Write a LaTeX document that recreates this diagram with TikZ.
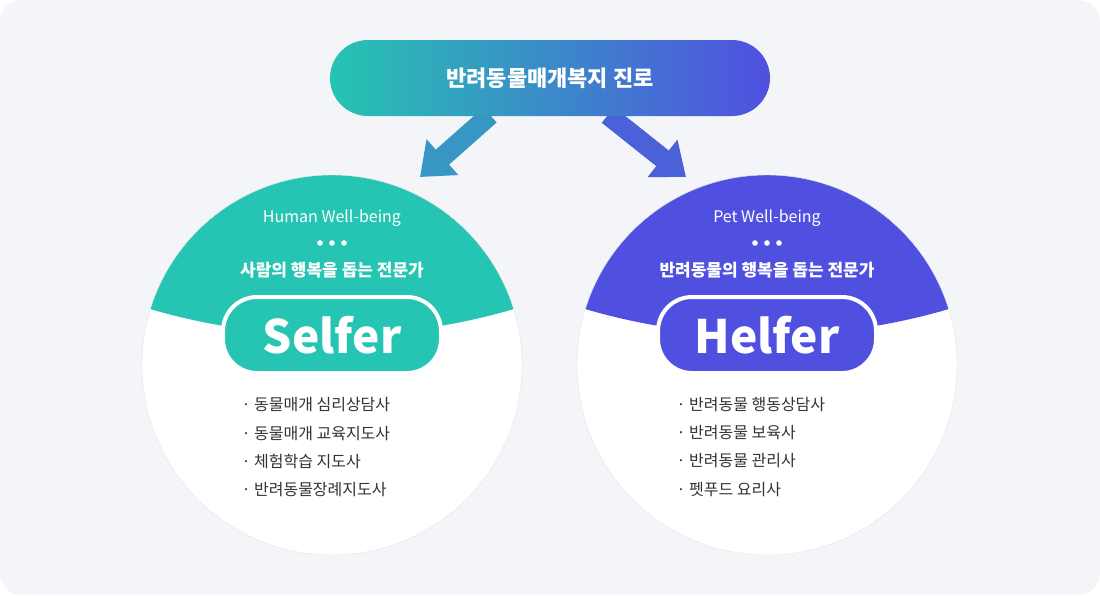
\documentclass[tikz,border=0pt]{standalone}
\usepackage{fontspec}
\setmainfont{Noto Sans CJK KR}
\usetikzlibrary{arrows.meta}
\definecolor{teal1}{HTML}{26C4B2}
\definecolor{blue1}{HTML}{5050E0}
\definecolor{bgcol}{HTML}{F4F5F8}
\definecolor{txtcol}{HTML}{333333}
\tikzset{
  captext/.style={text=white, font=\fontsize{16}{18}\selectfont},
  capbold/.style={font=\bfseries\fontsize{17}{20}\selectfont, text=white},
  namepill/.style={rounded corners=34pt, minimum width=218pt, minimum height=76pt,
    draw=white, line width=4pt, text=white, font=\bfseries\fontsize{46}{50}\selectfont},
  listitem/.style={anchor=west, text=txtcol, font=\fontsize{16}{18}\selectfont},
  bigarrow/.style={line width=20pt, -{Triangle[length=30pt,width=46pt]}}
}
\begin{document}
\begin{tikzpicture}[x=1pt,y=-1pt]
  \fill[bgcol, rounded corners=22pt] (0,0) rectangle (1100,595);
  \useasboundingbox (0,0) rectangle (1100,595);

  % arrows
  \coordinate (la) at (490,115);
  \coordinate (lb) at (420,177);
  \coordinate (ra) at (608,115);
  \coordinate (rb) at (686,177);
  \draw[bigarrow, teal1!60!blue1] (la) -- (lb);
  \draw[bigarrow, blue1!85!teal1] (ra) -- (rb);

  % top pill
  \shade[left color=teal1, right color=blue1, rounded corners=38pt] (330,40) rectangle (770,116);
  \node[text=white, font=\bfseries\fontsize{22}{26}\selectfont] (title) at (550,78) {반려동물매개복지 진로};

  % left circle
  \fill[white] (332,365) circle (190);
  \begin{scope}
    \clip (332,365) circle (190);
    \fill[teal1] (332,-310) circle (645);
  \end{scope}
  \draw[black!10] (332,365) circle (190);
  \node[captext] (lhw) at (332,218) {Human Well-being};
  \foreach \dx in {-12,0,12} \fill[white] (332+\dx,243) circle (2.8);
  \node[capbold] (lko) at (332,270) {사람의 행복을 돕는 전문가};
  \node[namepill, fill=teal1] (selfer) at (332,335) {Selfer};
  \node[listitem] (l1) at (238,405) {· 동물매개 심리상담사};
  \node[listitem] (l2) at (238,433) {· 동물매개 교육지도사};
  \node[listitem] (l3) at (238,461) {· 체험학습 지도사};
  \node[listitem] (l4) at (238,490) {· 반려동물장례지도사};

  % right circle
  \fill[white] (767,365) circle (190);
  \begin{scope}
    \clip (767,365) circle (190);
    \fill[blue1] (767,-310) circle (645);
  \end{scope}
  \draw[black!10] (767,365) circle (190);
  \node[captext] (rhw) at (767,218) {Pet Well-being};
  \foreach \dx in {-12,0,12} \fill[white] (767+\dx,243) circle (2.8);
  \node[capbold] (rko) at (767,270) {반려동물의 행복을 돕는 전문가};
  \node[namepill, fill=blue1] (helfer) at (767,335) {Helfer};
  \node[listitem] (r1) at (673,405) {· 반려동물 행동상담사};
  \node[listitem] (r2) at (673,433) {· 반려동물 보육사};
  \node[listitem] (r3) at (673,461) {· 반려동물 관리사};
  \node[listitem] (r4) at (673,490) {· 펫푸드 요리사};
\end{tikzpicture}
\end{document}
